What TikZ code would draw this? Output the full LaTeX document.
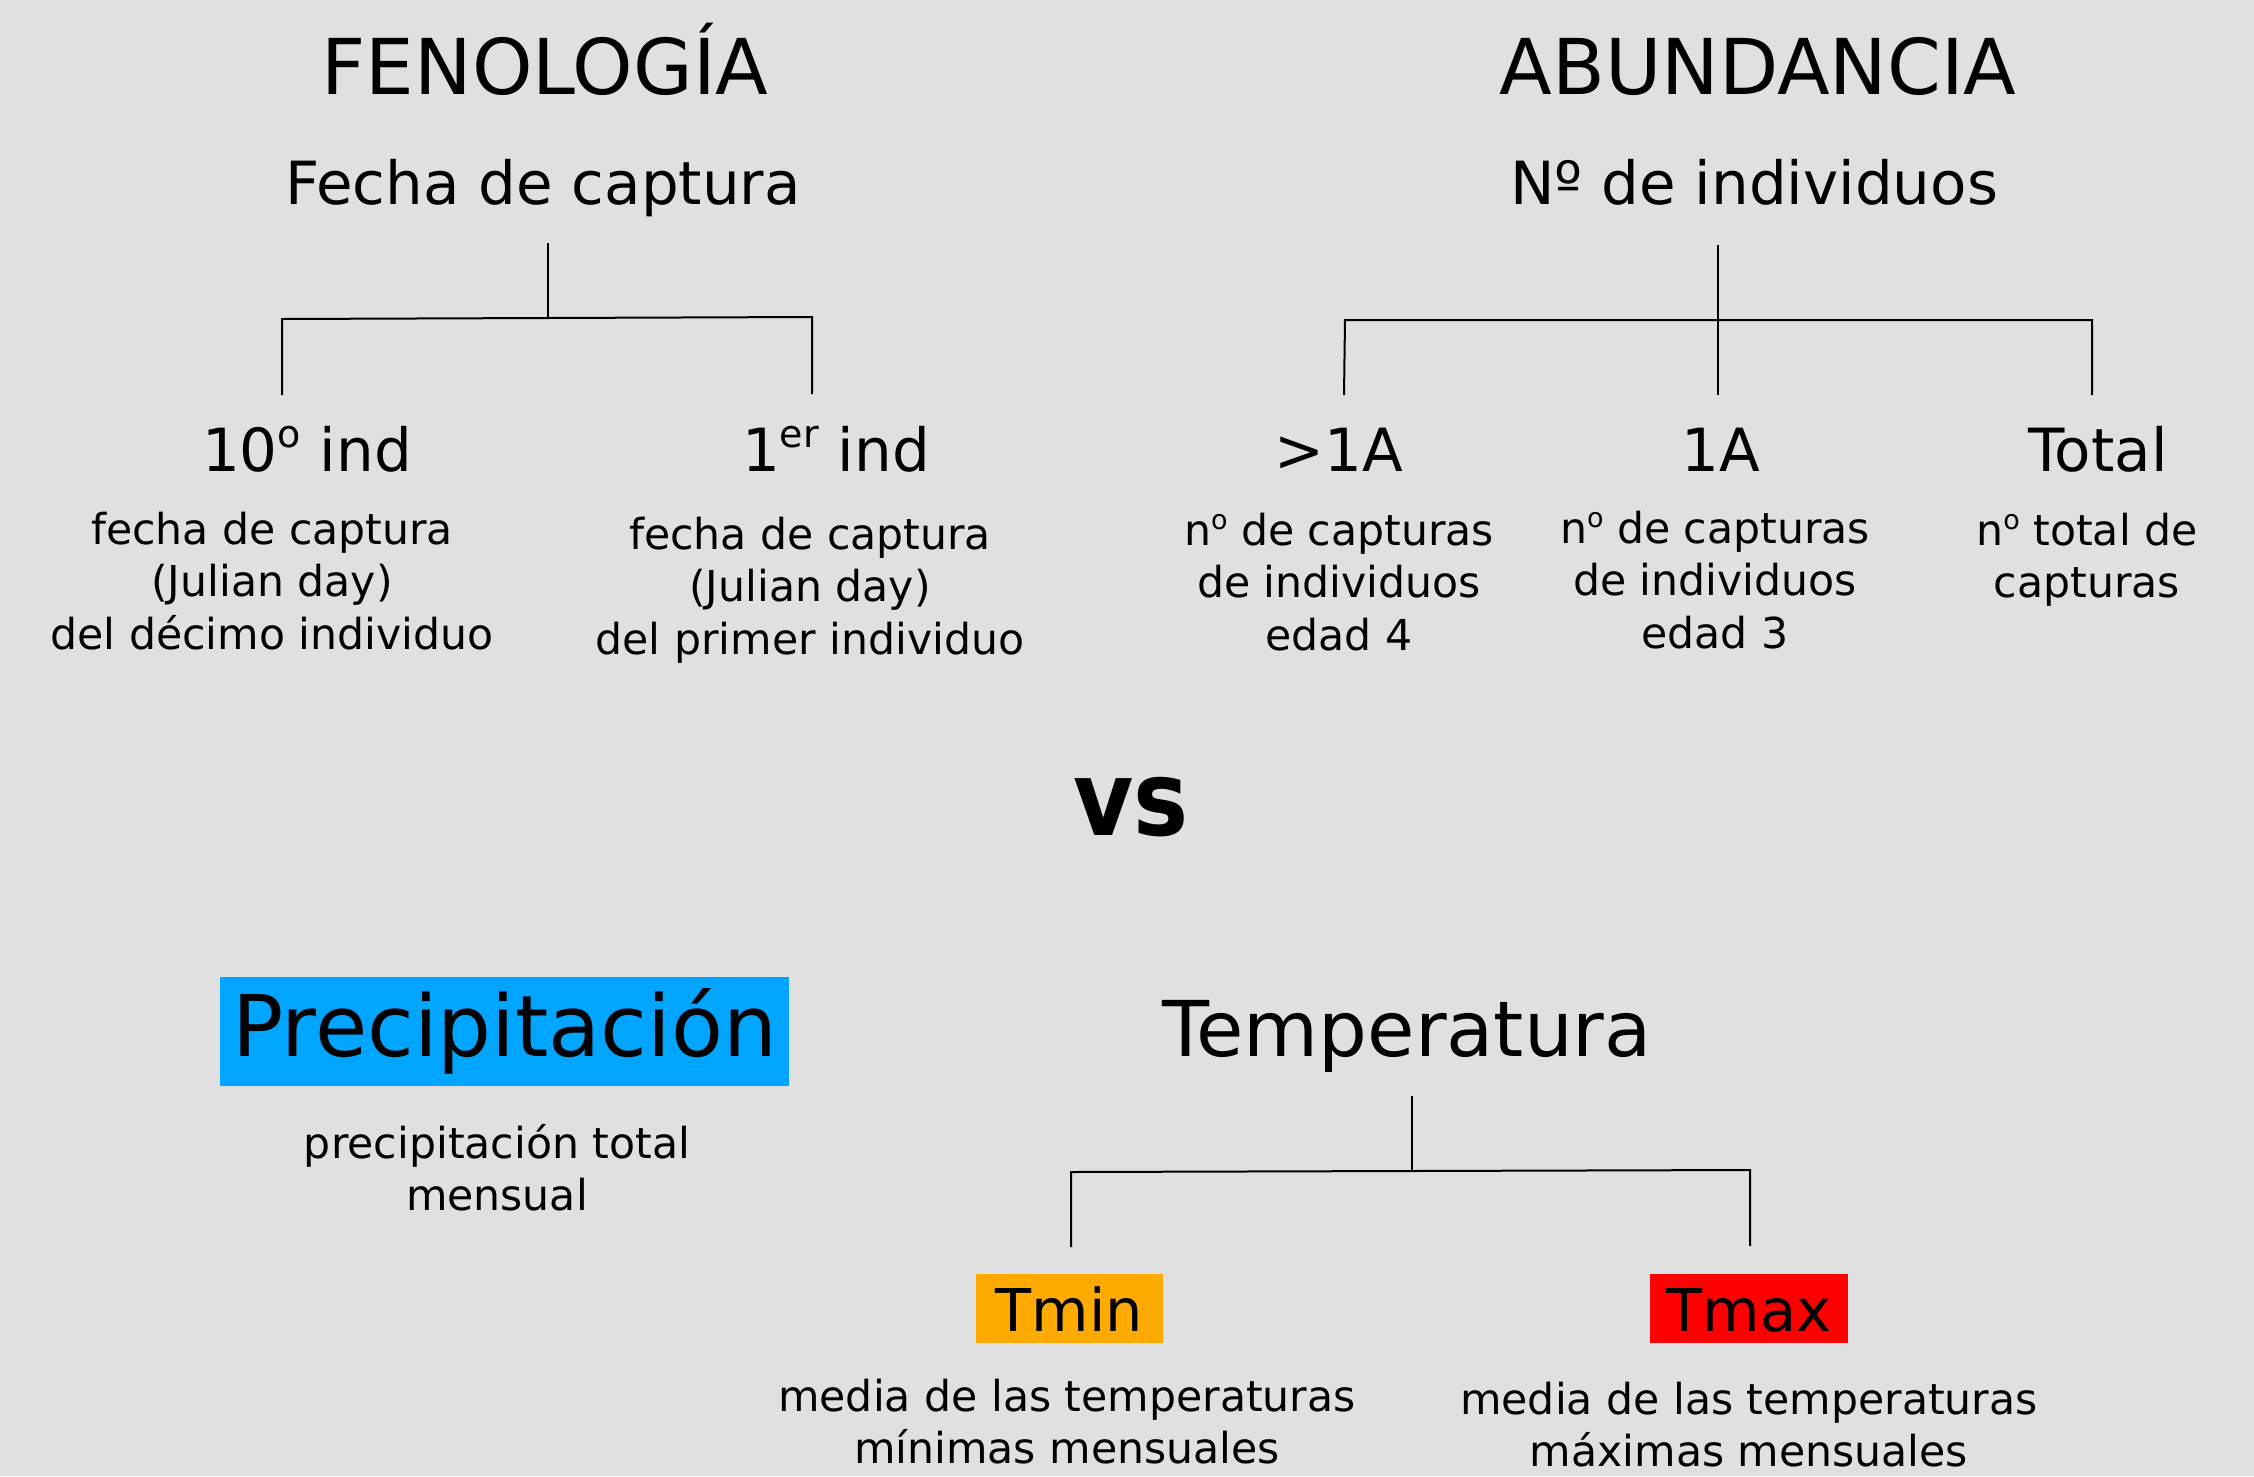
\documentclass[tikz,border=0pt]{standalone}
\usepackage{fontspec}
\setmainfont{DejaVu Sans}
\definecolor{bgc}{HTML}{E0E0E0}
\definecolor{precipc}{HTML}{00A5FF}
\definecolor{tminc}{HTML}{FFAA00}
\definecolor{tmaxc}{HTML}{FF0000}
\newcommand\bigsup[1]{\raisebox{24pt}{\fontsize{38}{40}\selectfont #1}}
\newcommand\smallsup[1]{\raisebox{16pt}{\fontsize{27}{30}\selectfont #1}}
\tikzset{
  titletext/.style={anchor=base, inner sep=0pt, font=\fontsize{77}{92}\selectfont},
  subtext/.style={anchor=base, inner sep=0pt, font=\fontsize{59.5}{71}\selectfont},
  desctext/.style={anchor=base, inner sep=0pt, align=center, font=\fontsize{42.6}{52.5}\selectfont},
  link/.style={line width=2pt, black},
  colbox/.style={inner sep=0pt, anchor=center},
}
\begin{document}
\begin{tikzpicture}[x=1pt,y=-1pt]
\fill[bgc] (0,0) rectangle (2254,1476);
\useasboundingbox (0,0) rectangle (2254,1476);

% ---------- FENOLOGIA ----------
\node[titletext] (fen) at (545,94) {FENOLOGÍA};
\node[subtext] (fecha) at (543,204) {Fecha de captura};
\node[subtext] (diez) at (307,471) {10\bigsup{o} ind};
\node[subtext] (primer) at (836,471) {1\bigsup{er} ind};
\node[desctext] (ddiez) at (272,649) {fecha de captura\\(Julian day)\\del décimo individuo};
\node[desctext] (dprimer) at (810,654) {fecha de captura\\(Julian day)\\del primer individuo};

\coordinate (ftop) at (548,243);
\coordinate (fmid) at (548,318);
\coordinate (fl) at (282,319);
\coordinate (fr) at (812,317);
\coordinate (flb) at (282,395);
\coordinate (frb) at (812,394);
\draw[link] (ftop) -- (fmid);
\draw[link] (flb) -- (fl) -- (fr) -- (frb);

% ---------- ABUNDANCIA ----------
\node[titletext] (abu) at (1758,94) {ABUNDANCIA};
\node[subtext] (nind) at (1754,204) {Nº de individuos};
\node[subtext] (mas) at (1339,471) {>1A};
\node[subtext] (uno) at (1721,471) {1A};
\node[subtext] (tot) at (2098,471) {Total};
\node[desctext] (dmas) at (1339,650) {n\smallsup{o} de capturas\\de individuos\\edad 4};
\node[desctext] (duno) at (1715,648) {n\smallsup{o} de capturas\\de individuos\\edad 3};
\node[desctext] (dtot) at (2087,597.5) {n\smallsup{o} total de\\capturas};

\coordinate (atop) at (1718,245);
\coordinate (amid) at (1718,320);
\coordinate (abot) at (1718,395);
\coordinate (al) at (1345,320);
\coordinate (ar) at (2092,320);
\coordinate (alb) at (1344,395);
\coordinate (arb) at (2092,395);
\draw[link] (atop) -- (amid) -- (abot);
\draw[link] (alb) -- (al) -- (ar) -- (arb);

% ---------- VS ----------
\node[anchor=base, inner sep=0pt, font=\fontsize{104}{120}\selectfont\bfseries] (vs) at (1131,835) {\scalebox{0.89}[1]{vs}};

% ---------- Precipitacion ----------
\node[colbox, fill=precipc, minimum width=569pt, minimum height=109pt,
      text height=70pt, text depth=21pt, font=\fontsize{85}{100}\selectfont] (prec) at (504.5,1031.5) {Precipitación};
\node[desctext] (dprec) at (497,1210.5) {precipitación total\\mensual};

% ---------- Temperatura ----------
\node[titletext] (temp) at (1407,1056) {Temperatura};
\node[colbox, fill=tminc, minimum width=187pt, minimum height=69pt,
      text height=45pt, text depth=0pt, font=\fontsize{59}{70}\selectfont] (tmin) at (1069.5,1308.5) {Tmin};
\node[colbox, fill=tmaxc, minimum width=198pt, minimum height=69pt,
      text height=45pt, text depth=0pt, font=\fontsize{59}{70}\selectfont] (tmax) at (1749,1308.5) {Tmax};
\node[desctext] (dtmin) at (1067,1463.5) {media de las temperaturas\\mínimas mensuales};
\node[desctext] (dtmax) at (1749,1466.5) {media de las temperaturas\\máximas mensuales};

\coordinate (ttop) at (1412,1096);
\coordinate (tmid) at (1412,1171);
\coordinate (tl) at (1071,1172);
\coordinate (tr) at (1750,1170);
\coordinate (tlb) at (1071,1247);
\coordinate (trb) at (1750,1246);
\draw[link] (ttop) -- (tmid);
\draw[link] (tlb) -- (tl) -- (tr) -- (trb);
\end{tikzpicture}
\end{document}
